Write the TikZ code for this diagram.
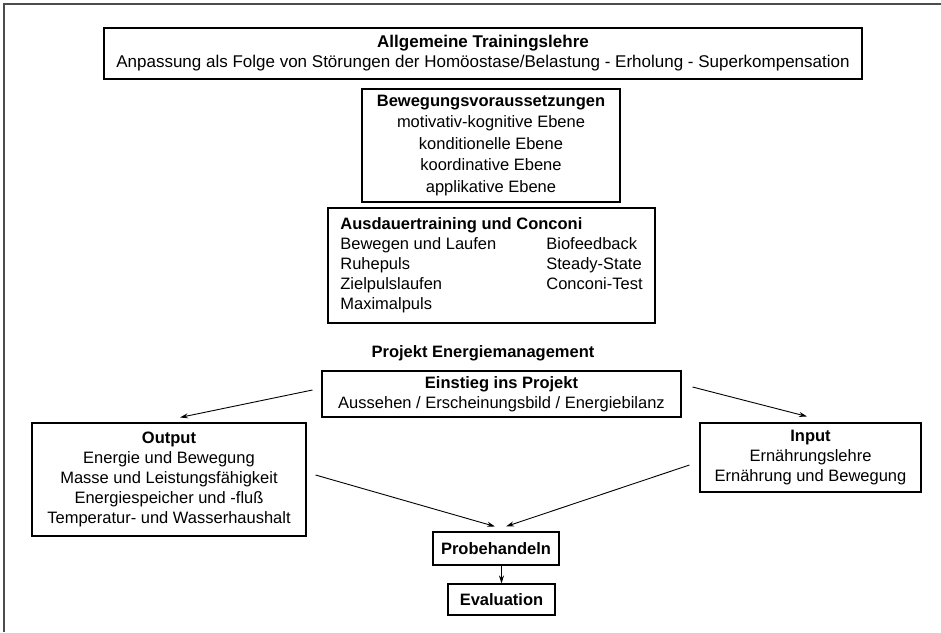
\documentclass[tikz,border=0pt]{standalone}
\usepackage{fontspec}
\setmainfont{Liberation Sans}
\usetikzlibrary{arrows.meta}
\begin{document}
\begin{tikzpicture}[x=1pt,y=-1pt,
  box/.style={draw, line width=1.1pt, inner sep=0pt, align=center, font=\fontsize{16.5}{20}\selectfont},
  conn/.style={line width=0.9pt, -{Stealth[length=8pt,width=5pt]}},
  frameline/.style={draw=black!70, line width=2pt}]
\useasboundingbox (0,0) rectangle (941,632);
\draw[frameline] (4,632) -- (4,4) -- (941,4);

\node[box, minimum width=758, minimum height=51, font=\fontsize{17}{20}\selectfont] (gen) at (483,53.5)
  {\bfseries Allgemeine Trainingslehre\\Anpassung als Folge von Störungen der Homöostase/Belastung - Erholung - Superkompensation};
\node[box, minimum width=258, minimum height=113, font=\fontsize{16.5}{21.5}\selectfont] (bew) at (491,145.5)
  {\bfseries Bewegungsvoraussetzungen\\motivativ-kognitive Ebene\\konditionelle Ebene\\koordinative Ebene\\applikative Ebene};
\node[box, minimum width=327, minimum height=115] (aus) at (491.5,265.5)
  {\begin{tabular}{@{}p{206pt}@{}l@{}}
   \multicolumn{2}{@{}l@{}}{\bfseries Ausdauertraining und Conconi}\\
   Bewegen und Laufen & Biofeedback\\
   Ruhepuls & Steady-State\\
   Zielpulslaufen & Conconi-Test\\
   Maximalpuls & \end{tabular}};
\node[font=\fontsize{16.5}{20}\selectfont\bfseries] (proj) at (483,353) {Projekt Energiemanagement};
\node[box, minimum width=359, minimum height=46] (ein) at (501.5,394)
  {\bfseries Einstieg ins Projekt\\Aussehen / Erscheinungsbild / Energiebilanz};
\node[box, minimum width=274, minimum height=113] (out) at (169,479.5)
  {\bfseries Output\\Energie und Bewegung\\Masse und Leistungsfähigkeit\\Energiespeicher und -fluß\\Temperatur- und Wasserhaushalt};
\node[box, minimum width=221, minimum height=69] (inp) at (810.5,457.5)
  {\bfseries Input\\Ernährungslehre\\Ernährung und Bewegung};
\node[box, minimum width=126, minimum height=33] (pro) at (496,548.5) {\bfseries Probehandeln};
\node[box, minimum width=107, minimum height=31] (eva) at (501.5,599.5) {\bfseries Evaluation};

\draw[conn] ([shift={(-9,-4)}]ein.west) -- ([shift={(11,-5)}]out.north);
\draw[conn] ([shift={(11,-7)}]ein.east) -- ([shift={(-3.5,-6)}]inp.north);
\draw[conn] ([shift={(9,-4.5)}]out.east) -- ([shift={(-1,-5)}]pro.north);
\draw[conn] ([shift={(-10,7.5)}]inp.west) -- ([shift={(10,-5)}]pro.north);
\draw[conn] (eva.north |- pro.south) -- (eva.north);
\end{tikzpicture}
\end{document}
